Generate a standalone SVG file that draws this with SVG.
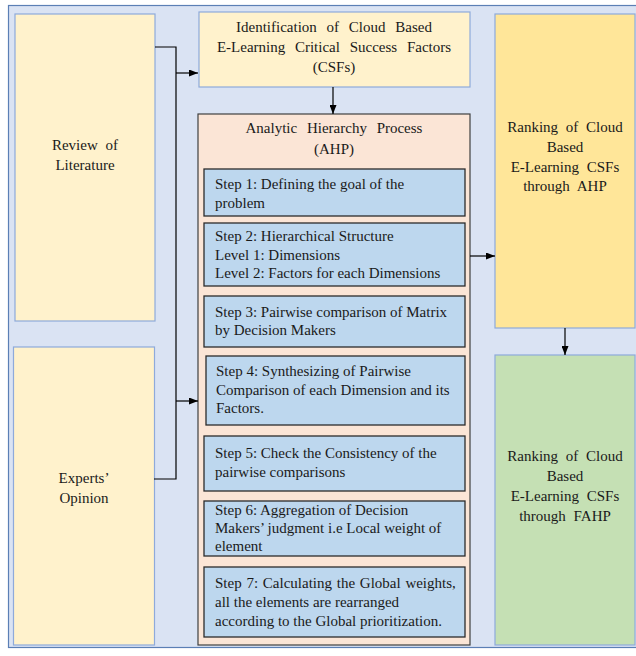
<svg xmlns="http://www.w3.org/2000/svg" width="636" height="656" viewBox="0 0 636 656">
<defs>
<marker id="ah" markerWidth="9" markerHeight="7" refX="9" refY="3.5" orient="auto" markerUnits="userSpaceOnUse">
<path d="M0,0 L9,3.5 L0,7 Z" fill="#000"/>
</marker>
<style>
text{font-family:"Liberation Serif","Times New Roman",serif;font-size:15px;fill:#1a1a1a}
.c{text-anchor:middle}
.w{word-spacing:6px}
.src{fill:#fff2cc;stroke:#8eaadb;stroke-width:1.2}
.step{fill:#bdd7ee;stroke:#2b2b2b;stroke-width:1.3}
.con{fill:none;stroke:#000;stroke-width:1.2}
</style>
</defs>
<rect x="8.5" y="5.5" width="640" height="642" fill="#dae3f3" stroke="#5b7fb5" stroke-width="1.2"/>

<g id="review">
<rect class="src" x="15" y="14" width="140" height="307"/>
<text class="c" x="85" y="150" style="word-spacing:4px">Review of</text>
<text class="c" x="85" y="170">Literature</text>
</g>

<g id="experts">
<rect class="src" x="13.5" y="347" width="141" height="298"/>
<text class="c" x="84" y="483">Experts’</text>
<text class="c" x="84" y="503">Opinion</text>
</g>

<g id="identification">
<rect class="src" x="199" y="12" width="271" height="75"/>
<text class="c w" x="334" y="32">Identification of Cloud Based</text>
<text class="c w" x="334" y="52">E-Learning Critical Success Factors</text>
<text class="c" x="334" y="72">(CSFs)</text>
</g>

<g id="ahp">
<rect x="198" y="114" width="272" height="531" fill="#fbe5d6" stroke="#404040" stroke-width="1.2"/>
<text class="c w" x="334" y="133">Analytic Hierarchy Process</text>
<text class="c" x="334" y="154">(AHP)</text>
</g>

<g id="step1">
<rect class="step" x="204" y="169" width="261" height="47"/>
<text x="215" y="189">Step 1: Defining the goal of the</text>
<text x="215" y="208">problem</text>
</g>

<g id="step2">
<rect class="step" x="204" y="223" width="261" height="63"/>
<text x="215" y="241">Step 2: Hierarchical Structure</text>
<text x="215" y="260">Level 1: Dimensions</text>
<text x="215" y="278">Level 2: Factors for each Dimensions</text>
</g>

<g id="step3">
<rect class="step" x="204" y="296" width="261" height="51"/>
<text x="215" y="317">Step 3: Pairwise comparison of Matrix</text>
<text x="215" y="335">by Decision Makers</text>
</g>

<g id="step4">
<rect class="step" x="206" y="356" width="259" height="69"/>
<text x="216" y="376">Step 4: Synthesizing of Pairwise</text>
<text x="216" y="395">Comparison of each Dimension and its</text>
<text x="216" y="413">Factors.</text>
</g>

<g id="step5">
<rect class="step" x="204" y="436" width="261" height="55"/>
<text x="215" y="458">Step 5: Check the Consistency of the</text>
<text x="215" y="477">pairwise comparisons</text>
</g>

<g id="step6">
<rect class="step" x="204" y="501" width="261" height="55"/>
<text x="215" y="515">Step 6: Aggregation of Decision</text>
<text x="215" y="533">Makers’ judgment i.e Local weight of</text>
<text x="215" y="551">element</text>
</g>

<g id="step7">
<rect class="step" x="204" y="567" width="261" height="70"/>
<text x="215" y="588" style="word-spacing:1px">Step 7: Calculating the Global weights,</text>
<text x="215" y="607">all the elements are rearranged</text>
<text x="215" y="626">according to the Global prioritization.</text>
</g>

<g id="rank-ahp">
<rect x="495" y="14" width="140" height="314" fill="#ffe699" stroke="#8eaadb" stroke-width="1.2"/>
<text class="c" x="565" y="132" style="word-spacing:4px">Ranking of Cloud</text>
<text class="c" x="565" y="152">Based</text>
<text class="c" x="565" y="172" style="word-spacing:4px">E-Learning CSFs</text>
<text class="c" x="565" y="191" style="word-spacing:4px">through AHP</text>
</g>

<g id="rank-fahp">
<rect x="495" y="355" width="140" height="290" fill="#c5e0b4" stroke="#8eaadb" stroke-width="1.2"/>
<text class="c" x="565" y="461" style="word-spacing:4px">Ranking of Cloud</text>
<text class="c" x="565" y="481">Based</text>
<text class="c" x="565" y="501" style="word-spacing:4px">E-Learning CSFs</text>
<text class="c" x="565" y="521" style="word-spacing:4px">through FAHP</text>
</g>

<g id="connectors">
<polyline class="con" points="155,47 176,47 176,479 154,479"/>
<line class="con" x1="176" y1="73" x2="198" y2="73" marker-end="url(#ah)"/>
<line class="con" x1="176" y1="401" x2="198" y2="401" marker-end="url(#ah)"/>
<line class="con" x1="333" y1="87" x2="333" y2="114" marker-end="url(#ah)"/>
<line class="con" x1="470" y1="256" x2="495" y2="256" marker-end="url(#ah)"/>
<line class="con" x1="565" y1="328" x2="565" y2="355" marker-end="url(#ah)"/>
</g>
</svg>
